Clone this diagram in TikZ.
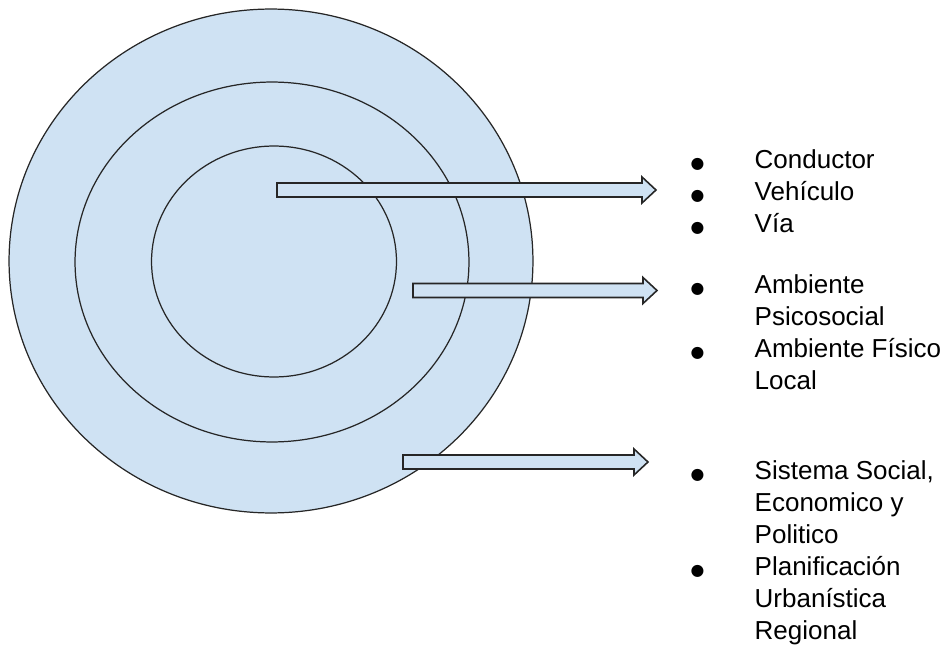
\documentclass[tikz,border=0pt]{standalone}
\usepackage{fontspec}
\setmainfont{Liberation Sans}
\newfontfamily\symfont{DejaVu Sans}
\usepackage{tikz}
\usetikzlibrary{matrix,shapes.geometric,calc}

\definecolor{ringblue}{HTML}{CFE2F3}
\newcommand{\listfont}{\fontsize{14.8}{18}\selectfont}
\newcommand{\bul}{\makebox[9pt]{\symfont\fontsize{9}{10}\selectfont ●}}

\tikzset{
	ring/.style={ellipse, draw=black!85, line width=0.7pt, fill=ringblue, inner sep=0pt},
	blockarrow/.style={draw=black!85, line width=0.9pt, fill=ringblue, line join=miter,
		to path={($(\tikztostart)+(0,7)$) -- ($(\tikztotarget)+(-14,7)$) -- ($(\tikztotarget)+(-14,13)$)
			-- (\tikztotarget) -- ($(\tikztotarget)+(-14,-13)$) -- ($(\tikztotarget)+(-14,-7)$)
			-- ($(\tikztostart)+(0,-7)$) -- cycle}}
}

\begin{document}
\begin{tikzpicture}[x=0.02cm, y=0.02cm]
	\useasboundingbox (0,0) rectangle (948,647);

	% rings
	\node[ring, minimum width=10.48cm, minimum height=10.08cm] (outer) at (271,386) {};
	\node[ring, minimum width=7.88cm, minimum height=7.2cm] (middle) at (272,385) {};
	\node[ring, minimum width=4.9cm, minimum height=4.62cm] (inner) at (274,385.5) {};

	% lists
	\matrix (m) [matrix of nodes, anchor=north west, inner sep=0pt, row sep=0.14cm, column sep=0.984cm,
		nodes={font=\listfont, inner sep=0pt, text height=0.38cm, text depth=0.12cm, anchor=base west}]
		at (689,498)
	{
		\bul & Conductor \\
		\bul & Vehículo \\
		\bul & Vía \\[0.58cm]
		\bul & Ambiente \\
		     & Psicosocial \\
		\bul & Ambiente Físico \\
		     & Local \\[1.16cm]
		\bul & Sistema Social, \\
		     & Economico y \\
		     & Politico \\
		\bul & Planificación \\
		     & Urbanística \\
		     & Regional \\
	};

	\coordinate (s1) at (277,457);
	\coordinate (t1) at (656,457);
	\coordinate (s2) at (413,356.5);
	\coordinate (t2) at (657,356.5);
	\coordinate (s3) at (403,185);
	\coordinate (t3) at (648,185);

	\path
	(s1) edge[blockarrow] (t1)
	(s2) edge[blockarrow] (t2)
	(s3) edge[blockarrow] (t3)
	;
\end{tikzpicture}
\end{document}
